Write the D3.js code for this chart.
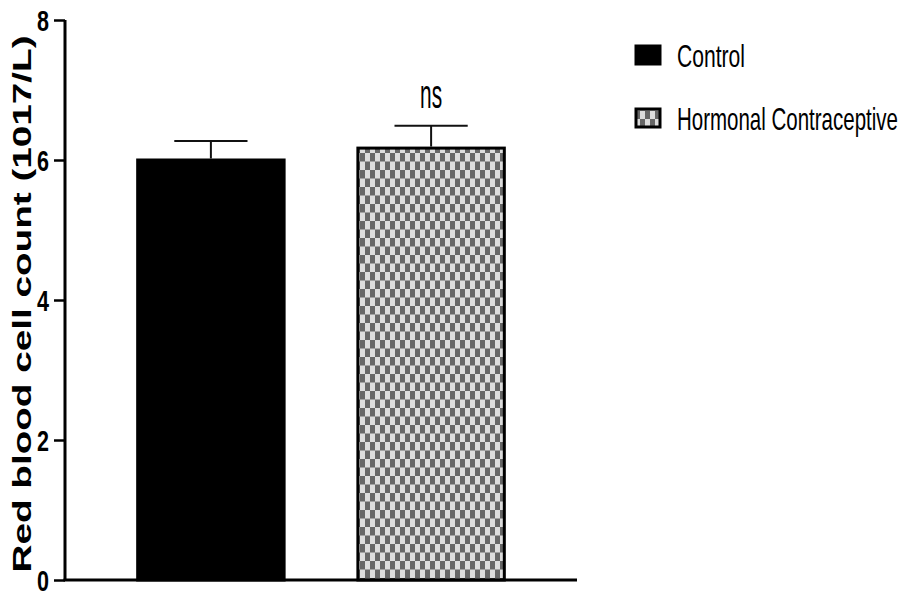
<!DOCTYPE html>
<html>
<head>
<meta charset="utf-8">
<script src="https://cdn.jsdelivr.net/npm/d3@7"></script>
<style>
  html, body { margin: 0; padding: 0; background: #fff; }
  svg { display: block; }
  text { font-family: "Liberation Sans", Arial, sans-serif; }
</style>
</head>
<body>
<svg id="chart" width="903" height="594"></svg>
<script>
// Group means and upper error (SEM) of red blood cell count
const groups = ["Control", "Hormonal Contraceptive"];
const means = [6.0, 6.17];
const errors = [0.27, 0.32];
const yTicks = [0, 2, 4, 6, 8];
const significance = ["", "ns"];

const svg = d3.select("#chart");
const margin = { left: 65, right: 326, top: 20, bottom: 14 };
const W = 903, H = 594;

const x = d3.scaleBand()
  .domain(groups)
  .range([margin.left, W - margin.right])
  .paddingInner(0.335)
  .paddingOuter(0.33);

const y = d3.scaleLinear()
  .domain([0, 8])
  .range([H - margin.bottom, margin.top]);

// Squeeze a text horizontally around an anchor point so it fits a width
function condense(sel, width, ax, ay, anchor) {
  sel.each(function () {
    const t = d3.select(this);
    const natural = this.getComputedTextLength();
    const s = width / natural;
    t.attr("text-anchor", anchor || "start")
      .attr("x", 0).attr("y", 0)
      .attr("transform", `translate(${ax},${ay}) scale(${s},1)`);
  });
}

// Checkerboard fill for the hormonal contraceptive group
const defs = svg.append("defs");
const pat = defs.append("pattern")
  .attr("id", "checker")
  .attr("patternUnits", "userSpaceOnUse")
  .attr("width", 10).attr("height", 17);
pat.append("rect").attr("width", 10).attr("height", 17).attr("fill", "#dcdcdc");
pat.append("rect").attr("x", 0).attr("y", 0).attr("width", 5).attr("height", 8.5).attr("fill", "#666");
pat.append("rect").attr("x", 5).attr("y", 8.5).attr("width", 5).attr("height", 8.5).attr("fill", "#666");

const fills = ["#000", "url(#checker)"];

// Bars
svg.append("g").selectAll("rect")
  .data(groups)
  .join("rect")
  .attr("x", d => x(d))
  .attr("y", (d, i) => y(means[i]))
  .attr("width", x.bandwidth())
  .attr("height", (d, i) => y(0) - y(means[i]))
  .attr("fill", (d, i) => fills[i])
  .attr("stroke", "#000")
  .attr("stroke-width", 3);

// Upper error bars
const eb = svg.append("g").attr("stroke", "#111").attr("stroke-width", 2);
groups.forEach((g, i) => {
  const cx = x(g) + x.bandwidth() / 2;
  const capW = x.bandwidth() / 2;
  eb.append("line")
    .attr("x1", cx).attr("x2", cx)
    .attr("y1", y(means[i]) - 1.5).attr("y2", y(means[i] + errors[i]));
  eb.append("line")
    .attr("x1", cx - capW / 2).attr("x2", cx + capW / 2)
    .attr("y1", y(means[i] + errors[i])).attr("y2", y(means[i] + errors[i]));
});

// Significance annotation
groups.forEach((g, i) => {
  if (!significance[i]) return;
  svg.append("text")
    .attr("font-size", 40)
    .attr("fill", "#000")
    .text(significance[i])
    .call(condense, 22, x(g) + x.bandwidth() / 2, y(means[i] + errors[i]) - 18, "middle");
});

// Y axis
const yAxis = d3.axisLeft(y).tickValues(yTicks).tickSize(11).tickPadding(5).tickFormat(d3.format("d"));
const gy = svg.append("g")
  .attr("transform", `translate(${margin.left},0)`)
  .call(yAxis);
gy.select(".domain").attr("stroke", "#000").attr("stroke-width", 3)
  .attr("d", `M0,${y(8)}V${y(0)}`);
gy.selectAll(".tick line").attr("stroke", "#000").attr("stroke-width", 2.5);
gy.selectAll(".tick text")
  .attr("font-size", 30)
  .attr("font-weight", "bold")
  .attr("fill", "#000")
  .attr("dy", null)
  .each(function () {
    d3.select(this).call(condense, 12, -16, 10.5, "end");
  });

// X axis baseline
svg.append("line")
  .attr("x1", margin.left - 1.5).attr("x2", W - margin.right)
  .attr("y1", y(0)).attr("y2", y(0))
  .attr("stroke", "#000").attr("stroke-width", 3);

// Y axis title
svg.append("text")
  .attr("transform", `translate(31,${(y(0) + y(8)) / 2 + 4}) rotate(-90)`)
  .attr("text-anchor", "middle")
  .attr("font-size", 26)
  .attr("font-weight", "bold")
  .attr("textLength", 537)
  .attr("lengthAdjust", "spacingAndGlyphs")
  .attr("fill", "#000")
  .text("Red blood cell count (1017/L)");

// Legend
const legendY = [55, 118];
const legendW = [68, 221];
const lg = svg.append("g");
groups.forEach((g, i) => {
  lg.append("rect")
    .attr("x", 636).attr("y", legendY[i] - 9)
    .attr("width", 24).attr("height", 18)
    .attr("fill", fills[i])
    .attr("stroke", "#000").attr("stroke-width", 3);
  lg.append("text")
    .attr("font-size", 32)
    .attr("fill", "#000")
    .text(g)
    .call(condense, legendW[i], 677, legendY[i] + 11.5, "start");
});
</script>
</body>
</html>
